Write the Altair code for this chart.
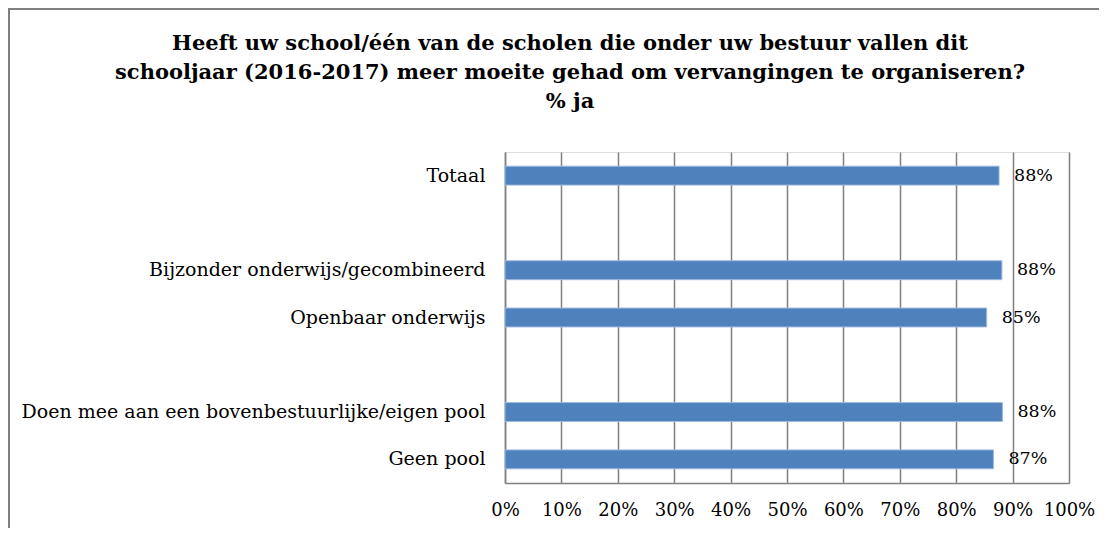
import altair as alt
import pandas as pd

categories = [
    "Totaal",
    "Bijzonder onderwijs/gecombineerd",
    "Openbaar onderwijs",
    "Doen mee aan een bovenbestuurlijke/eigen pool",
    "Geen pool",
]
values = [0.876, 0.881, 0.854, 0.882, 0.866]
row_order = [
    "Totaal",
    " ",
    "Bijzonder onderwijs/gecombineerd",
    "Openbaar onderwijs",
    "  ",
    "Doen mee aan een bovenbestuurlijke/eigen pool",
    "Geen pool",
]
x_ticks = [0.0, 0.1, 0.2, 0.3, 0.4, 0.5, 0.6, 0.7, 0.8, 0.9, 1.0]
title_lines = [
    "Heeft uw school/één van de scholen die onder uw bestuur vallen dit",
    "schooljaar (2016-2017) meer moeite gehad om vervangingen te organiseren?",
    "% ja",
]

df = pd.DataFrame({"cat": categories, "val": values})

FONT = "DejaVu Serif"
GRID = "#808080"
W, H = 564, 331
PL, PT, PR, PB = 497, 144, 30, 45

y_enc = alt.Y(
    "cat:N",
    sort=row_order,
    scale=alt.Scale(domain=row_order, paddingInner=0.6, paddingOuter=0.3),
    axis=alt.Axis(
        title=None,
        ticks=False,
        domain=True,
        domainColor=GRID,
        domainWidth=1.5,
        labelFont=FONT,
        labelFontSize=19,
        labelColor="#000000",
        labelPadding=20,
        labelLimit=0,
    ),
)
x_enc = alt.X(
    "val:Q",
    scale=alt.Scale(domain=[0, 1], nice=False),
    axis=alt.Axis(
        title=None,
        values=x_ticks,
        format=".0%",
        ticks=False,
        grid=True,
        gridColor=GRID,
        gridWidth=1.5,
        gridOpacity=1,
        domain=True,
        domainColor=GRID,
        domainWidth=1.5,
        labelFont=FONT,
        labelFontSize=18,
        labelColor="#000000",
        labelPadding=18,
        labelOverlap=False,
        labelFlush=False,
        labelAlign="center",
    ),
)

base = alt.Chart(df)
bars = base.mark_bar(color="#4F81BD", stroke="#9CBAE0", strokeWidth=1).encode(x=x_enc, y=y_enc)
labels = base.mark_text(
    align="left", baseline="middle", dx=15, font=FONT, fontSize=17.5, color="#000000"
).encode(
    x="val:Q",
    y=alt.Y("cat:N", sort=row_order),
    text=alt.Text("val:Q", format=".0%"),
)

frame_df = pd.DataFrame({"k": [0]})
top_border = alt.Chart(frame_df).mark_rule(color=GRID, strokeWidth=2).encode(
    x=alt.value(-PL), x2=alt.value(W + PR), y=alt.value(-PT + 1)
)
left_border = alt.Chart(frame_df).mark_rule(color=GRID, strokeWidth=2).encode(
    x=alt.value(-PL + 1), y=alt.value(-PT), y2=alt.value(H + PB)
)

chart = (
    alt.layer(bars, labels, top_border, left_border)
    .properties(
        width=W,
        height=H,
        autosize=alt.AutoSizeParams(type="none"),
        padding={"left": PL, "top": PT, "right": PR, "bottom": PB},
        title=alt.TitleParams(
            text=title_lines,
            font=FONT,
            fontSize=21,
            fontWeight="bold",
            color="#000000",
            anchor="middle",
            frame="group",
            dx=-217,
            offset=-105,
            lineHeight=29,
        ),
    )
    .configure_view(stroke=None)
    .configure(background="#ffffff")
)

chart.save("out.html", embed_options={"renderer": "svg", "actions": False})
